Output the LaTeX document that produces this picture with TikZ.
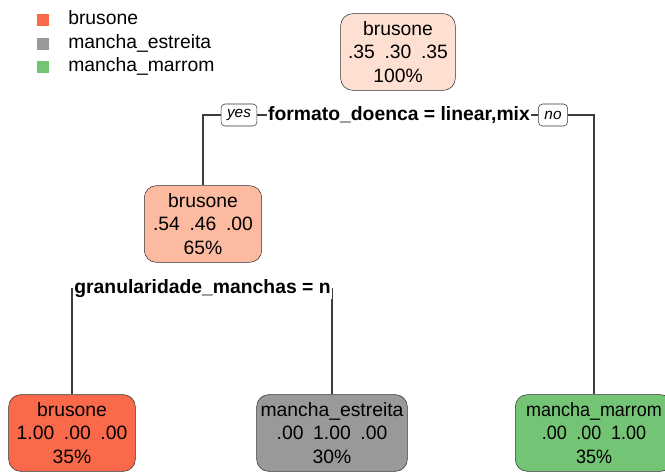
\documentclass[tikz,border=0pt]{standalone}
\usepackage{fontspec}
\setmainfont{Liberation Sans}
\newfontfamily\rtnarrow[FakeStretch=0.93]{Liberation Sans}
\usepackage{tikz}
\usetikzlibrary{positioning,backgrounds}
\definecolor{rtroot}{RGB}{254, 224, 210}
\definecolor{rtmid}{RGB}{252, 187, 161}
\definecolor{rtbru}{RGB}{250, 106, 74}
\definecolor{rtest}{RGB}{153, 153, 153}
\definecolor{rtmar}{RGB}{116, 196, 118}
\definecolor{rtline}{RGB}{60, 60, 60}
\newcommand{\gap}{\hspace{0.5em}}

\begin{document}
\begin{tikzpicture}[x=0.75pt, y=-0.75pt,
  treenode/.style={draw=black!80, rounded corners=9pt, align=center,
    minimum height=57.5pt, inner xsep=2pt,
    font=\fontsize{14.5}{17.6}\selectfont},
  splitlabel/.style={fill=white, inner sep=1pt,
    font=\fontsize{14.5}{17.6}\selectfont\bfseries},
  yesno/.style={draw=black!80, fill=white, rounded corners=3pt,
    minimum height=16.5pt, inner xsep=4.5pt, inner ysep=1pt,
    font=\fontsize{11.5}{13}\selectfont\itshape},
  branch/.style={rtline, line width=0.8pt},
  legsq/.style={minimum size=9pt, inner sep=0pt},
  legtxt/.style={anchor=west, inner sep=0pt, text height=10pt, text depth=3pt,
    font=\fontsize{14.5}{17.6}\selectfont}]
\useasboundingbox (0,0) rectangle (665,472);
% legend
\node[legsq, fill=rtbru] (sqbru) at (43,20) {};
\node[legsq, fill=rtest] (sqest) at (43,43.5) {};
\node[legsq, fill=rtmar] (sqmar) at (43,67) {};
\node[legtxt] (lgbru) at (68,20) {brusone};
\node[legtxt] (lgest) at (68,43.5) {mancha\_estreita};
\node[legtxt] (lgmar) at (68,67) {mancha\_marrom};
% nodes
\node[treenode, fill=rtroot, minimum width=86pt] (root) at (398,52)
  {brusone\\.35\gap.30\gap.35\\100\%};
\node[treenode, fill=rtmid, minimum width=88pt] (lnode) at (203,224)
  {brusone\\.54\gap.46\gap.00\\65\%};
\node[treenode, fill=rtbru, minimum width=95pt] (leafbru) at (72,433)
  {brusone\\1.00\gap.00\gap.00\\35\%};
\node[treenode, fill=rtest, minimum width=113pt] (leafest) at (332,433)
  {mancha\_estreita\\.00\gap1.00\gap.00\\30\%};
\node[treenode, fill=rtmar, minimum width=118pt, font=\fontsize{14.5}{17.6}\rtnarrow] (leafmar) at (594,433)
  {mancha\_marrom\\.00\gap.00\gap1.00\\35\%};
% split labels
\node[splitlabel] (split1) at (399,115) {formato\_doenca = linear,mix};
\node[yesno] (yes1) at (239,115) {yes};
\node[yesno] (no1) at (553,115) {no};
\node[splitlabel] (split2) at (202.5,289) {granularidade\_manchas = n};
% branches
\begin{scope}[on background layer]
\draw[branch] (split1) -- (yes1);
\draw[branch] (yes1) -| (lnode);
\draw[branch] (split1) -- (no1);
\draw[branch] (no1) -| (leafmar);
\draw[branch] (split2) -| (leafbru);
\draw[branch] (split2) -| (leafest);
\end{scope}
\end{tikzpicture}
\end{document}
